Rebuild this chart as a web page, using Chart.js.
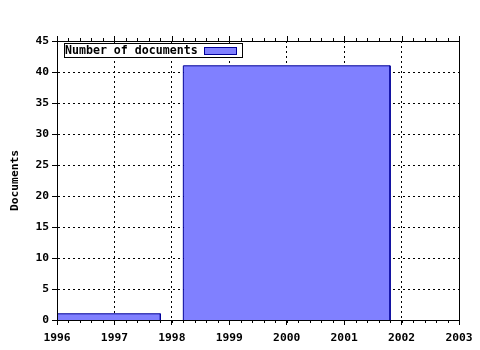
<!DOCTYPE html>
<html>
<head>
<meta charset="utf-8">
<script src="https://cdn.jsdelivr.net/npm/chart.js@4"></script>
<style>
  html, body { margin: 0; padding: 0; background: #fff; }
  #wrap { width: 480px; height: 350px; }
</style>
</head>
<body>
<div id="wrap"><canvas id="docChart" width="480" height="350"></canvas></div>
<script>
// data
const seriesName = 'Number of documents';
const binStart = [1996, 1998.2];
const binEnd = [1997.8, 2001.8];
const counts = [1, 41];
const yAxisTitle = 'Documents';
const xRange = [1996, 2003];
const yRange = [0, 45];

const FONT = { family: "'DejaVu Sans Mono', monospace", size: 11.3, weight: 'bold' };
const FILL = '#8080ff';
const EDGE = '#000099';

// frame on top/right + minor ticks + legend box
const framePlugin = {
    id: 'frame',
    afterDraw(chart) {
        const { ctx, chartArea: a, scales } = chart;
        ctx.save();
        ctx.strokeStyle = '#000';
        ctx.lineWidth = 1;
        ctx.strokeRect(a.left + 0.5, a.top + 0.5, a.right - a.left, a.bottom - a.top);

        // minor ticks every 0.2 year, bottom and top
        ctx.beginPath();
        for (let v = xRange[0]; v <= xRange[1] + 1e-6; v += 0.2) {
            const px = Math.round(scales.x.getPixelForValue(v)) + 0.5;
            ctx.moveTo(px, a.bottom);
            ctx.lineTo(px, a.bottom + 3);
            const major = Math.abs(v - Math.round(v)) < 1e-6;
            ctx.moveTo(px, a.top);
            ctx.lineTo(px, a.top - (major ? 5 : 3));
        }
        ctx.stroke();

        // legend
        const bx = a.left + 7, by = a.top + 2, bw = 178, bh = 14;
        ctx.fillStyle = '#fff';
        ctx.fillRect(bx, by, bw, bh);
        ctx.strokeRect(bx + 0.5, by + 0.5, bw, bh);
        ctx.fillStyle = '#000';
        ctx.font = `bold 11.6px ${FONT.family}`;
        ctx.textBaseline = 'middle';
        ctx.fillText(seriesName, bx + 1, by + bh / 2 + 1);
        ctx.fillStyle = FILL;
        ctx.fillRect(bx + 140, by + 4, 32, 7);
        ctx.strokeStyle = EDGE;
        ctx.strokeRect(bx + 140.5, by + 4.5, 32, 7);
        ctx.restore();
    }
};

const datasets = binStart.map((s, i) => ({
    label: seriesName,
    data: [
        { x: s, y: 0 },
        { x: s, y: counts[i] },
        { x: binEnd[i], y: counts[i] },
        { x: binEnd[i], y: 0 }
    ],
    fill: 'origin',
    backgroundColor: FILL,
    borderColor: EDGE,
    borderWidth: 1,
    pointRadius: 0,
    tension: 0
}));

Chart.defaults.font = FONT;
Chart.defaults.color = '#000';

new Chart(document.getElementById('docChart'), {
    type: 'line',
    data: { datasets },
    options: {
        responsive: false,
        animation: false,
        layout: { padding: { top: 41, right: 21, left: 0, bottom: 0 } },
        plugins: { legend: { display: false }, tooltip: { enabled: false } },
        scales: {
            x: {
                type: 'linear',
                min: xRange[0],
                max: xRange[1],
                afterFit: s => { s.height = 30; },
                ticks: { stepSize: 1, padding: 6, callback: v => String(v), maxRotation: 0 },
                grid: { color: '#000', lineWidth: 1, tickLength: 5, tickBorderDash: [] },
                border: { color: '#000', dash: [2, 3] }
            },
            y: {
                min: yRange[0],
                max: yRange[1],
                afterFit: s => { s.width = 57; },
                ticks: { stepSize: 5, padding: 3 },
                grid: { color: '#000', lineWidth: 1, tickLength: 5, tickBorderDash: [] },
                border: { color: '#000', dash: [2, 3] },
                title: { display: true, text: yAxisTitle, padding: { top: 8, bottom: 4 } }
            }
        }
    },
    plugins: [framePlugin]
});
</script>
</body>
</html>
